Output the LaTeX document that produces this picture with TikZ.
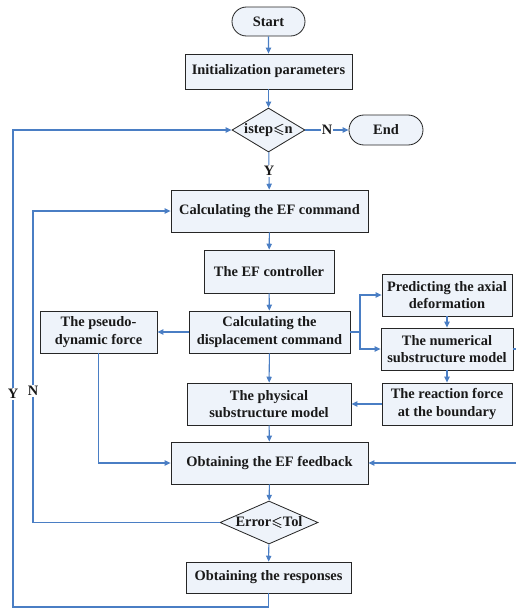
\documentclass[tikz,border=0pt]{standalone}
\usepackage{fontspec}
\usepackage{amssymb}
\setmainfont{Liberation Serif}
\usetikzlibrary{shapes.geometric,shapes.misc,arrows.meta}

\definecolor{boxfill}{HTML}{EEF3FA}
\definecolor{flowblue}{HTML}{4A7EC4}

% heavier slanted less-or-equal
\newcommand{\bleq}{\makebox[0pt][l]{$\leqslant$}\hspace{0.4pt}$\leqslant$}

\tikzset{
  box/.style={draw=black!85, fill=boxfill, line width=0.7pt, inner sep=0pt,
    align=center, text=black!90, font=\fontsize{12.3}{15}\selectfont\bfseries},
  term/.style={box, rounded rectangle},
  cond/.style={box, diamond},
  flow/.style={draw=flowblue, line width=0.9pt},
  arr/.style={flow, -{Triangle[length=5pt,width=4.5pt]}},
  lbl/.style={fill=white, inner sep=1pt, text=black!90, font=\fontsize{12.3}{15}\selectfont\bfseries}
}

\begin{document}
\begin{tikzpicture}[x=0.03cm, y=-0.03cm]
          \useasboundingbox (0,0) rectangle (516,608);

          % main column
          \node[term, minimum width=2.19cm, minimum height=0.87cm] (start) at (268.5,21.5) {Start};
          \node[box, minimum width=5.01cm, minimum height=1.05cm] (init) at (268.5,71.5) {Initialization parameters};
          \node[cond, minimum width=2.19cm, minimum height=1.32cm] (istep) at (268.5,130) {\makebox[0pt]{istep\bleq n}};
          \node[term, minimum width=2.22cm, minimum height=0.9cm] (end) at (386,130) {End};
          \node[box, minimum width=5.91cm, minimum height=1.26cm] (efcmd) at (269.5,211) {Calculating the EF command};
          \node[box, minimum width=3.9cm, minimum height=1.29cm] (efctrl) at (269,271.5) {The EF controller};
          \node[box, minimum width=4.83cm, minimum height=1.26cm] (disp) at (269.5,332) {Calculating the\\displacement command};
          \node[box, minimum width=4.92cm, minimum height=1.26cm] (phys) at (269,404) {The physical\\substructure model};
          \node[box, minimum width=5.91cm, minimum height=1.26cm] (fb) at (269.5,463) {Obtaining the EF feedback};
          \node[cond, minimum width=2.94cm, minimum height=1.29cm] (tol) at (269,522.5) {\makebox[0pt]{Error\bleq Tol}};
          \node[box, minimum width=4.95cm, minimum height=0.93cm] (resp) at (268.5,577.5) {Obtaining the responses};

          % side boxes
          \node[box, minimum width=3.51cm, minimum height=1.26cm] (pseudo) at (98.5,332) {The pseudo-\\dynamic force};
          \node[box, minimum width=3.9cm, minimum height=1.26cm] (pred) at (447,295) {Predicting the axial\\deformation};
          \node[box, minimum width=3.96cm, minimum height=1.26cm] (num) at (447,349) {The numerical\\substructure model};
          \node[box, minimum width=3.9cm, minimum height=1.26cm] (react) at (447,404) {The reaction force\\at the boundary};

          % connectors
          \draw[arr] (start) -- (init);
          \draw[arr] (init) -- (istep);
          \draw[arr] (istep) -- node[lbl] (nlab) {N} (end);
          \draw[arr] (istep) -- node[lbl] (ylab) {Y} (efcmd);
          \draw[arr] (efcmd) -- (efctrl);
          \draw[arr] (efctrl) -- (disp);
          \draw[arr] (disp) -- (pseudo);
          \draw[arr] (disp) -- (phys);
          \coordinate (fork) at (360,332);
          \draw[flow] (disp.east) -- (fork);
          \draw[arr] (fork) |- (pred.west);
          \draw[arr] (fork) |- (num.west);
          \draw[arr] (pred) -- (num);
          \draw[arr] (num) -- (react);
          \draw[arr] (react) -- (phys);
          \draw[arr] (phys) -- (fb);
          \draw[arr] (pseudo.south) |- (fb.west);
          \coordinate (rim) at (519,349);
          \draw[arr] (num.east) -- (rim) |- (fb.east);
          \draw[arr] (fb) -- (tol);
          \draw[arr] (tol) -- (resp);

          % loops back
          \draw[arr] (tol.west) -| (33,300) |- (efcmd.west);
          \draw[arr] (resp.south) |- (13,607) |- (istep.west);
          \node[lbl] (nloop) at (33,391) {N};
          \node[lbl] (yloop) at (13,394) {Y};
\end{tikzpicture}
\end{document}
